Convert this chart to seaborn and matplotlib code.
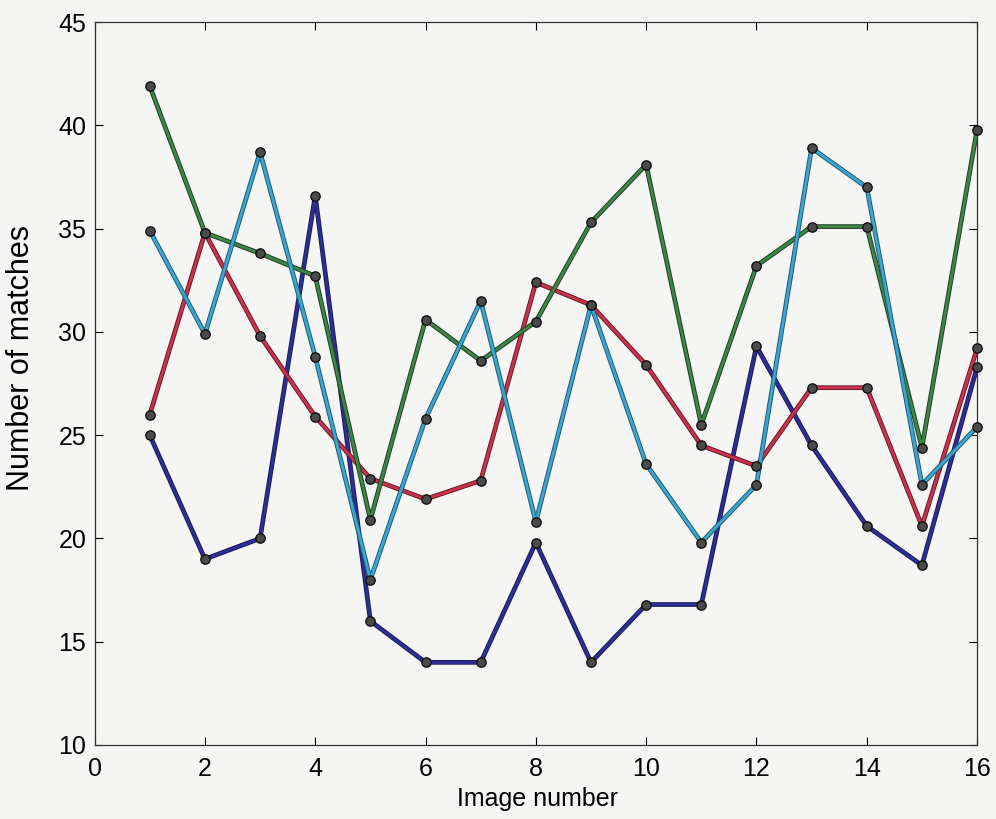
import matplotlib
matplotlib.use("Agg")
import matplotlib.pyplot as plt
import matplotlib.patheffects as pe
import seaborn as sns
import pandas as pd

images = list(range(1, 17))
blue_vals = [25, 19, 20, 36.6, 16, 14, 14, 19.8, 14, 16.8, 16.8, 29.3, 24.5, 20.6, 18.7, 28.3]
red_vals = [26, 34.8, 29.8, 25.9, 22.9, 21.9, 22.8, 32.4, 31.3, 28.4, 24.5, 23.5, 27.3, 27.3, 20.6, 29.2]
green_vals = [41.9, 34.8, 33.8, 32.7, 20.9, 30.6, 28.6, 30.5, 35.3, 38.1, 25.5, 33.2, 35.1, 35.1, 24.4, 39.8]
cyan_vals = [34.9, 29.9, 38.7, 28.8, 18, 25.8, 31.5, 20.8, 31.3, 23.6, 19.8, 22.6, 38.9, 37, 22.6, 25.4]

series_names = ["S1", "S2", "S3", "S4"]
colors = ["#2e2e96", "#c8324e", "#3f8448", "#3ca6cf"]
edge_colors = ["#1a1a55", "#6a1a28", "#1f3f22", "#1f5a72"]

df = pd.concat([
    pd.DataFrame({"Image": images, "Matches": v, "series": n})
    for n, v in zip(series_names, [blue_vals, red_vals, green_vals, cyan_vals])
])

sns.set_style("ticks")
plt.rcParams["font.family"] = ["Liberation Sans", "DejaVu Sans"]
plt.rcParams["text.color"] = "black"
plt.rcParams["axes.labelcolor"] = "black"
plt.rcParams["xtick.color"] = "black"
plt.rcParams["ytick.color"] = "black"

fig = plt.figure(figsize=(9.96, 8.19), dpi=100)
fig.patch.set_facecolor("#f5f5f3")
ax = fig.add_axes([0.095, 0.0904, 0.886, 0.8826])
ax.set_facecolor("#f5f5f3")

sns.lineplot(data=df, x="Image", y="Matches", hue="series", palette=colors,
             hue_order=series_names, linewidth=2.0, legend=False, ax=ax,
             sort=False)

for line, ec in zip(ax.get_lines(), edge_colors):
    line.set_path_effects([pe.Stroke(linewidth=3.4, foreground=ec), pe.Normal()])
    line.set_zorder(3)

sns.scatterplot(data=df, x="Image", y="Matches", color="#4a4a4a",
                edgecolor="#111111", linewidth=1.0, s=45, legend=False,
                ax=ax, zorder=4, clip_on=False)

ax.set_xlim(0, 16)
ax.set_ylim(10, 45)
ax.set_xticks(range(0, 17, 2))
ax.set_yticks(range(10, 46, 5))
ax.tick_params(direction="in", top=True, right=True, labelsize=18, length=6, width=0.8)
ax.tick_params(axis="x", pad=9)
ax.tick_params(axis="y", pad=6)
for s in ax.spines.values():
    s.set_linewidth(0.9)
    s.set_color("#333333")
ax.set_xlabel("Image number", fontsize=18)
ax.set_ylabel("Number of matches", fontsize=22)
ax.xaxis.set_label_coords(0.502, -0.058)
ax.yaxis.set_label_coords(-0.066, 0.535)

fig.savefig("out.png", dpi=100, facecolor=fig.get_facecolor())
